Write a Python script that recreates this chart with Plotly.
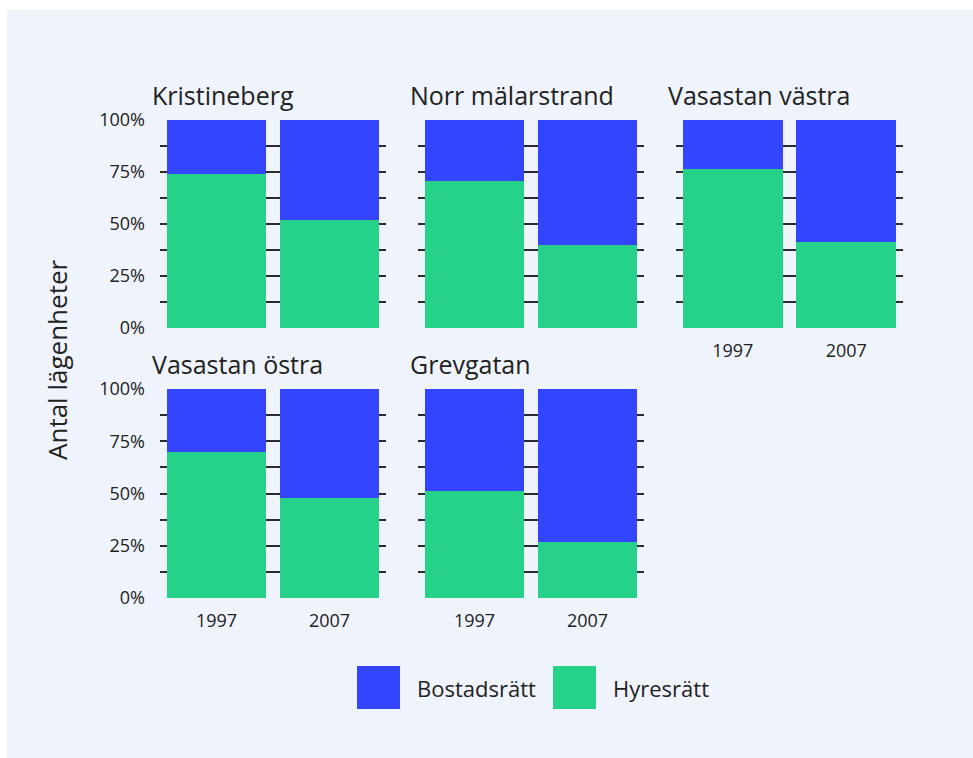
import plotly.graph_objects as go

# ---- data ----
areas = ["Kristineberg", "Norr mälarstrand", "Vasastan västra", "Vasastan östra", "Grevgatan"]
years = ["1997", "2007"]
hyresratt = {
    "Kristineberg": [74, 52],
    "Norr mälarstrand": [70.5, 40],
    "Vasastan västra": [76.3, 41.5],
    "Vasastan östra": [70, 48],
    "Grevgatan": [51, 27],
}
bostadsratt = {k: [100 - v for v in vals] for k, vals in hyresratt.items()}
series_names = ["Bostadsrätt", "Hyresrätt"]
colors = {"Bostadsrätt": "#3345ff", "Hyresrätt": "#26d28a"}
ytickvals = [0, 12.5, 25, 37.5, 50, 62.5, 75, 87.5, 100]
yticktext = ["0%", "", "25%", "", "50%", "", "75%", "", "100%"]
y_title = "Antal lägenheter"

W, H = 973, 758
OFF = 0  # body margin removed below
FONT = "Open Sans"
TXT = "#222222"

# panel pixel geometry (page pixels)
col_x = [(160, 386), (418, 644), (676, 903)]
row_y = [(120, 328), (389, 598)]

def px_x(x):
    return (x - OFF) / W

def px_y(y):
    return 1 - (y - OFF) / H

fig = go.Figure()
layout = {}
annotations = []
shapes = []

for i, area in enumerate(areas):
    r, c = divmod(i, 3)
    n = i + 1
    xa = "x" if n == 1 else f"x{n}"
    ya = "y" if n == 1 else f"y{n}"
    fig.add_trace(go.Bar(x=years, y=hyresratt[area], name=series_names[1],
                         marker=dict(color=colors["Hyresrätt"], line=dict(width=0)),
                         xaxis=xa, yaxis=ya, showlegend=False))
    fig.add_trace(go.Bar(x=years, y=bostadsratt[area], name=series_names[0],
                         marker=dict(color=colors["Bostadsrätt"], line=dict(width=0)),
                         xaxis=xa, yaxis=ya, showlegend=False))
    x0, x1 = col_x[c]
    y0, y1 = row_y[r]
    show_x = (r == 1) or (c == 2)
    layout["xaxis" if n == 1 else f"xaxis{n}"] = dict(
        domain=[px_x(x0), px_x(x1)], anchor=ya, showgrid=False, zeroline=False,
        showline=False, ticks="", showticklabels=show_x, automargin=False,
        tickfont=dict(family=FONT, size=18, color=TXT), ticklabelstandoff=10,
        fixedrange=True)
    layout["yaxis" if n == 1 else f"yaxis{n}"] = dict(
        domain=[px_y(y1), px_y(y0)], anchor=xa, range=[0, 100], automargin=False,
        tickvals=ytickvals, ticktext=yticktext, showticklabels=(c == 0),
        showgrid=True, gridcolor="#2b2b2b", gridwidth=2, zeroline=False,
        showline=False, ticks="", ticklabelstandoff=14,
        tickfont=dict(family=FONT, size=18, color=TXT), fixedrange=True)
    annotations.append(dict(text=area, xref="paper", yref="paper",
                            x=px_x(x0 - 10), y=px_y(y0 - 6), xanchor="left", yanchor="bottom",
                            showarrow=False, font=dict(family=FONT, size=25, color=TXT)))

# y axis title
annotations.append(dict(text=y_title, xref="paper", yref="paper", x=px_x(57), y=px_y(360),
                        textangle=-90, showarrow=False, xanchor="center", yanchor="middle",
                        font=dict(family=FONT, size=26, color=TXT)))

# legend (large swatches)
leg_x = [357, 553]
for name, lx in zip(series_names, leg_x):
    shapes.append(dict(type="rect", xref="paper", yref="paper",
                       x0=px_x(lx), x1=px_x(lx + 43), y0=px_y(709), y1=px_y(666),
                       fillcolor=colors[name], line=dict(width=0)))
    annotations.append(dict(text=name, xref="paper", yref="paper", x=px_x(lx + 58), y=px_y(688),
                            xanchor="left", yanchor="middle", showarrow=False,
                            font=dict(family=FONT, size=22, color=TXT)))

# background panel
shapes.append(dict(type="rect", xref="paper", yref="paper", layer="below",
                   x0=px_x(7), x1=1.0, y0=0.0, y1=px_y(10),
                   fillcolor="#eff3fb", line=dict(width=0)))

fig.update_layout(**layout)
fig.update_layout(width=W, height=H, autosize=False, barmode="stack", bargap=0.12,
                  margin=dict(l=0, r=0, t=0, b=0, pad=0), paper_bgcolor="white",
                  plot_bgcolor="rgba(0,0,0,0)", showlegend=False,
                  annotations=annotations, shapes=shapes,
                  font=dict(family=FONT, color=TXT))
fig.write_html("out.html", config={"displayModeBar": False},
               post_script="document.body.style.margin='0';document.body.style.overflow='hidden';")
